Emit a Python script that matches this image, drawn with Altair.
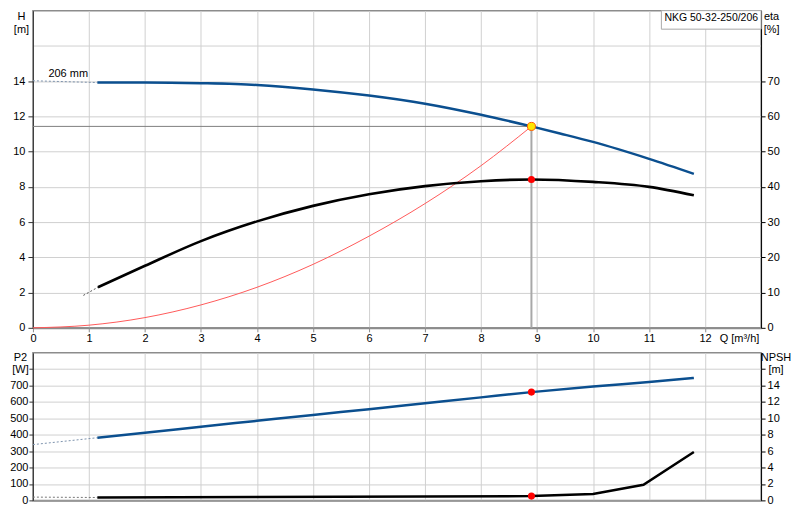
import altair as alt
import pandas as pd

FONT = "Liberation Sans"

# ---------------- data ----------------
Q_TICKS = list(range(0, 13))
H_TICKS = list(range(0, 17, 2))
ETA_TICKS = list(range(0, 80, 10))
P2_TICKS = list(range(0, 900, 100))
NPSH_TICKS = list(range(0, 18, 2))

# pump head curve H [m]
h_q = [1.15, 2, 3, 4, 5, 6, 7, 8, 8.9, 9.41, 10, 11, 11.8]
h_val = [13.92, 13.92, 13.88, 13.78, 13.53, 13.18, 12.72, 12.09, 11.43, 11.03, 10.55, 9.59, 8.74]
h_ext_q = [0, 1.15]
h_ext_val = [14.02, 13.92]

# efficiency eta [%]
eta_q = [1.16, 2, 3, 4, 5, 6, 7, 8, 8.9, 10, 11, 11.8]
eta_val = [11.5, 17.6, 24.6, 30.2, 34.6, 37.9, 40.2, 41.6, 42.1, 41.4, 40.0, 37.6]
eta_ext_q = [0.9, 1.16]
eta_ext_val = [9.2, 11.5]

# system curve [m]
sys_q = [0, 1, 2, 3, 4, 5, 6, 7, 8, 8.9]
sys_val = [0, 0.15, 0.58, 1.3, 2.3, 3.6, 5.2, 7.05, 9.2, 11.43]

# power P2 [W]
p2_q = [1.15, 2, 3, 4, 5, 6, 7, 8, 8.9, 10, 11, 11.8]
p2_val = [382, 412, 449, 485, 521, 556, 592, 628, 660, 694, 722, 746]
p2_ext_q = [0, 1.15]
p2_ext_val = [340, 382]

# NPSH [m]
npsh_q = [1.15, 4, 7, 8.9, 10, 10.9, 11.8]
npsh_val = [0.35, 0.4, 0.47, 0.52, 0.79, 1.9, 5.9]
npsh_ext_q = [0, 1.15]
npsh_ext_val = [0.4, 0.35]

# duty point
op_q = [8.9]
op_h = [11.43]
op_eta = [42.1]
op_p2 = [660]
op_npsh = [0.52]

# annotations
imp_label = ["206 mm"]
imp_pos = ([0.63], [14.26])
model_label = ["NKG 50-32-250/206"]
model_box = ([11.22], [13.0], [18.0], [16.95])
model_text_pos = ([12.11], [17.39])

# ---------------- styling ----------------
W = 730
H_TOP = 318
H_BOT = 148
GRID = "#d0d0d0"
BLUE = "#0b4f8f"
AXC = "#333333"
FRAME = "#8c8c8c"

xscale = alt.Scale(domain=[0, 13], nice=False, zero=False)

x_top = alt.X(
    "Q:Q", scale=xscale,
    axis=alt.Axis(values=Q_TICKS, grid=True, gridColor=GRID, domainColor=FRAME, domainWidth=2,
                  tickColor=FRAME, tickSize=4, labelPadding=1, labelFlush=False, labelFontSize=11,
                  title="Q [m³/h]", titleAlign="left", titleBaseline="top", titleX=688, titleY=5,
                  titleFontWeight="normal", titleFontSize=11))
x_bot = alt.X(
    "Q:Q", scale=xscale,
    axis=alt.Axis(values=Q_TICKS, grid=True, gridColor=GRID, domainColor=FRAME, domainWidth=1.5,
                  ticks=False, labels=False, title=None))

y_h = alt.Y(
    "V:Q", scale=alt.Scale(domain=[0, 18], nice=False),
    axis=alt.Axis(values=H_TICKS, grid=True, gridColor=GRID,
                  labelExpr="datum.value <= 14 ? datum.label : ''",
                  tickOpacity={"condition": {"test": "datum.value > 14", "value": 0}, "value": 1},
                  domainColor=AXC, tickColor=AXC, tickSize=5, labelPadding=3, labelFontSize=11,
                  title=["H", "[m]"], titleAngle=0, titleAlign="center", titleBaseline="top",
                  titleX=-12, titleY=0, titleLineHeight=12.5, titleFontWeight="normal",
                  titleFontSize=11))
y_eta = alt.Y(
    "V:Q", scale=alt.Scale(domain=[0, 90], nice=False),
    axis=alt.Axis(orient="right", values=ETA_TICKS, grid=False, domainColor="#000",
                  tickColor="#000", tickSize=4, labelPadding=2, labelFontSize=11,
                  title=["eta", "[%]"], titleAngle=0, titleAlign="center", titleBaseline="top",
                  titleX=10, titleY=0, titleLineHeight=12.5, titleFontWeight="normal",
                  titleFontSize=11))
y_p2 = alt.Y(
    "V:Q", scale=alt.Scale(domain=[0, 900], nice=False),
    axis=alt.Axis(values=P2_TICKS, grid=True, gridColor=GRID,
                  labelExpr="datum.value <= 700 ? datum.label : ''",
                  domainColor=AXC, tickColor=AXC, tickSize=4, labelPadding=1, labelFontSize=11,
                  title=["P2", "[W]"], titleAngle=0, titleAlign="center", titleBaseline="top",
                  titleX=-13, titleY=-1, titleLineHeight=12, titleFontWeight="normal",
                  titleFontSize=11))
y_npsh = alt.Y(
    "V:Q", scale=alt.Scale(domain=[0, 18], nice=False),
    axis=alt.Axis(orient="right", values=NPSH_TICKS, grid=False,
                  labelExpr="datum.value <= 14 ? datum.label : ''",
                  domainColor="#000", tickColor="#000", tickSize=4, labelPadding=2, labelFontSize=11,
                  title=["NPSH", "[m]"], titleAngle=0, titleAlign="center", titleBaseline="top",
                  titleX=14.5, titleY=-1, titleLineHeight=12, titleFontWeight="normal",
                  titleFontSize=11))


def frame(q, v, **extra):
    d = {"Q": q, "V": v}
    d.update(extra)
    return pd.DataFrame(d)


def line(q, v, x, y, **mk):
    return alt.Chart(frame(q, v)).mark_line(**mk).encode(x=x, y=y)


def dots(q, v, x, y, **mk):
    return alt.Chart(frame(q, v)).mark_point(filled=True, opacity=1, **mk).encode(x=x, y=y)


# ---------------- top panel ----------------
sys_line = line(sys_q, sys_val, x_top, y_h, color="#ff5a5a", strokeWidth=1, interpolate="monotone")
op_hline = line([0, op_q[0]], [op_h[0], op_h[0]], x_top, y_h, color="#808080", strokeWidth=1)
op_vline = line([op_q[0], op_q[0]], [op_h[0], 0], x_top, y_h, color="#a8a8a8", strokeWidth=2)
h_ext = line(h_ext_q, h_ext_val, x_top, y_h, color="#7d93ad", strokeWidth=1, strokeDash=[2, 2])
h_line = line(h_q, h_val, x_top, y_h, color=BLUE, strokeWidth=2.5, interpolate="monotone")
imp_text = alt.Chart(frame(imp_pos[0], imp_pos[1], T=imp_label)).mark_text(
    align="center", baseline="alphabetic", fontSize=11, color="#000", font=FONT
).encode(x=x_top, y=y_h, text="T:N")
box_df = pd.DataFrame({"Q": model_box[0], "Q2": model_box[1], "V": model_box[2], "V2": model_box[3]})
box_shadow = alt.Chart(box_df).mark_rect(color="#777777", yOffset=1.5, opacity=1).encode(
    x=x_top, x2="Q2:Q", y=y_h, y2="V2:Q")
box = alt.Chart(box_df).mark_rect(fill="#ffffff", stroke="#b0b0b0", strokeWidth=1, opacity=1).encode(
    x=x_top, x2="Q2:Q", y=y_h, y2="V2:Q")
model_text = alt.Chart(frame(model_text_pos[0], model_text_pos[1], T=model_label)).mark_text(
    align="center", baseline="alphabetic", fontSize=10.5, color="#000", font=FONT
).encode(x=x_top, y=y_h, text="T:N")
op_dot = dots(op_q, op_h, x_top, y_h, fill="#ffe600", stroke="#ff5a00", strokeWidth=1, size=65, shape="circle")

h_group = alt.layer(sys_line, op_hline, op_vline, h_ext, h_line, imp_text,
                    box_shadow, box, model_text, op_dot)

eta_ext = line(eta_ext_q, eta_ext_val, x_top, y_eta, color="#555555", strokeWidth=1, strokeDash=[2, 2])
eta_line = line(eta_q, eta_val, x_top, y_eta, color="#000000", strokeWidth=2.6, interpolate="monotone")
eta_dot = dots(op_q, op_eta, x_top, y_eta, color="#ff0000", size=50, shape="circle")
eta_group = alt.layer(eta_ext, eta_line, eta_dot)

top = alt.layer(h_group, eta_group).resolve_scale(y="independent").properties(width=W, height=H_TOP)

# ---------------- bottom panel ----------------
p2_ext = line(p2_ext_q, p2_ext_val, x_bot, y_p2, color="#7d93ad", strokeWidth=1, strokeDash=[2, 2])
p2_line = line(p2_q, p2_val, x_bot, y_p2, color=BLUE, strokeWidth=2.5, interpolate="monotone")
p2_dot = dots(op_q, op_p2, x_bot, y_p2, color="#ff0000", size=50, shape="circle")
p2_group = alt.layer(p2_ext, p2_line, p2_dot)

npsh_ext = line(npsh_ext_q, npsh_ext_val, x_bot, y_npsh, color="#777777", strokeWidth=1, strokeDash=[2, 2])
npsh_line = line(npsh_q, npsh_val, x_bot, y_npsh, color="#000000", strokeWidth=2.5)
npsh_dot = dots(op_q, op_npsh, x_bot, y_npsh, color="#ff0000", size=50, shape="circle")
npsh_group = alt.layer(npsh_ext, npsh_line, npsh_dot)

bottom = alt.layer(p2_group, npsh_group).resolve_scale(y="independent").properties(width=W, height=H_BOT)

chart = (
    alt.vconcat(top, bottom, spacing=25, bounds="flush")
    .resolve_scale(x="independent", y="independent")
    .properties(padding=0, background="#ffffff")
    .configure_view(stroke=FRAME, strokeWidth=1.5)
    .configure_axis(labelFont=FONT, titleFont=FONT, labelColor="#000", titleColor="#000")
    .configure_text(font=FONT)
)

chart.save("out.html", embed_options={"renderer": "svg", "actions": False})
